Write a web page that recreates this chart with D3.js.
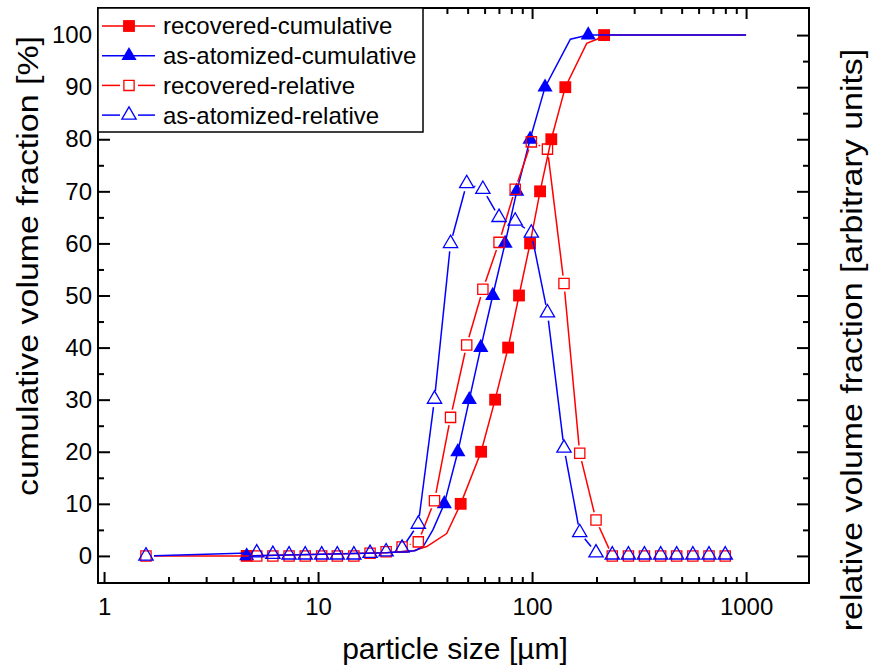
<!DOCTYPE html>
<html>
<head>
<meta charset="utf-8">
<script src="https://cdn.jsdelivr.net/npm/d3@7"></script>
<style>
  body { margin: 0; background: #fff; }
  text { font-family: "Liberation Sans", Arial, sans-serif; fill: #000; }
</style>
</head>
<body>
<svg id="chart" width="869" height="668"></svg>
<script>
// size classes of the relative distributions [µm]
var relSize = [1.57, 5.17, 6.15, 7.32, 8.71, 10.4, 12.3, 14.7, 17.5, 20.8, 24.7, 29.4, 35.0, 41.6, 49.5,
  58.9, 70.1, 83.4, 99.2, 118, 141, 167, 199, 237, 282, 335, 399, 474, 564, 671, 799];
var recoveredRel = [0, 0, 0, 0, 0, 0, 0, 0, 0.5, 0.8, 1.7, 2.7, 10.6, 26.6, 40.5,
  51.2, 60.2, 70.4, 79.5, 78.1, 52.3, 19.7, 6.9, 0, 0, 0, 0, 0, 0, 0, 0];
var atomizedRel = [0, 0.6, 0.3, 0.2, 0.2, 0.2, 0.2, 0.2, 0.5, 0.8, 1.5, 6.1, 30.1, 60.0, 71.5,
  70.4, 65.0, 64.3, 62.0, 46.7, 20.7, 4.5, 0.6, 0.2, 0.2, 0.2, 0.2, 0.2, 0.2, 0.2, 0.2];

// cumulative: marked percentiles
var cumPct = [0, 10, 20, 30, 40, 50, 60, 70, 80, 90, 100];
var recoveredCumSize = [4.64, 46.4, 57.8, 67.2, 77.3, 86.9, 97.9, 109, 123, 143, 217];
var atomizedCumSize = [4.64, 38.9, 45.0, 50.9, 57.6, 65.5, 74.8, 84.8, 97.9, 115, 183];

// cumulative: curves drawn under the markers
var recoveredCurveSize = [4.64, 10.4, 20.8, 27.9, 32.2, 39.9, 46.4, 57.8, 67.2, 77.3, 86.9, 97.9, 109, 123, 143, 180, 201, 217, 1000];
var recoveredCurvePct = [0, 0.3, 0.6, 1.0, 1.8, 4.3, 10, 20, 30, 40, 50, 60, 70, 80, 90, 98.4, 99.2, 100, 100];
var atomizedCurveSize = [4.64, 10.4, 20.8, 28.4, 31.0, 34.4, 38.9, 45.0, 50.9, 57.6, 65.5, 74.8, 84.8, 97.9, 115, 151, 183, 1000];
var atomizedCurvePct = [0, 0.3, 0.6, 1.0, 1.8, 5.0, 10, 20, 30, 40, 50, 60, 70, 80, 90, 99.2, 100, 100];

var xMajor = [1, 10, 100, 1000];
var yMajor = [0, 10, 20, 30, 40, 50, 60, 70, 80, 90, 100];
var yMinor = [5, 15, 25, 35, 45, 55, 65, 75, 85, 95];
var xDomain = [0.937, 1968];
var yDomain = [-5.2, 105.2];

var legendNames = ["recovered-cumulative", "as-atomized-cumulative", "recovered-relative", "as-atomized-relative"];

var RED = "#ff0000", BLUE = "#0000ff";
var frame = {left: 98, top: 8, right: 809, bottom: 583};

var svg = d3.select("#chart");

var x = d3.scaleLog().domain(xDomain).range([frame.left, frame.right]);
var y = d3.scaleLinear().domain(yDomain).range([frame.bottom, frame.top]);

var xMinor = x.ticks().filter(function(t) { return xMajor.indexOf(t) < 0; });

// axes, ticks pointing inwards on all four sides
function styleAxis(g) {
  g.select(".domain").remove();
  g.selectAll(".tick line").attr("stroke", "#000").attr("stroke-width", 2);
  g.selectAll("text").style("font-size", "24px").attr("fill", "#000");
}

svg.append("g").attr("transform", "translate(0," + frame.bottom + ")")
  .call(d3.axisBottom(x).tickValues(xMajor).tickFormat(d3.format("d")).tickSize(-11).tickPadding(15))
  .call(styleAxis);
svg.append("g").attr("transform", "translate(0," + frame.bottom + ")")
  .call(d3.axisBottom(x).tickValues(xMinor).tickFormat("").tickSize(-6))
  .call(styleAxis);
svg.append("g").attr("transform", "translate(0," + frame.top + ")")
  .call(d3.axisTop(x).tickValues(xMajor).tickFormat("").tickSize(-11))
  .call(styleAxis);
svg.append("g").attr("transform", "translate(0," + frame.top + ")")
  .call(d3.axisTop(x).tickValues(xMinor).tickFormat("").tickSize(-6))
  .call(styleAxis);

svg.append("g").attr("transform", "translate(" + frame.left + ",0)")
  .call(d3.axisLeft(y).tickValues(yMajor).tickSize(-12).tickPadding(6))
  .call(styleAxis);
svg.append("g").attr("transform", "translate(" + frame.left + ",0)")
  .call(d3.axisLeft(y).tickValues(yMinor).tickFormat("").tickSize(-6))
  .call(styleAxis);
svg.append("g").attr("transform", "translate(" + frame.right + ",0)")
  .call(d3.axisRight(y).tickValues(yMajor).tickFormat("").tickSize(-12))
  .call(styleAxis);
svg.append("g").attr("transform", "translate(" + frame.right + ",0)")
  .call(d3.axisRight(y).tickValues(yMinor).tickFormat("").tickSize(-6))
  .call(styleAxis);

svg.append("rect")
  .attr("x", frame.left).attr("y", frame.top)
  .attr("width", frame.right - frame.left).attr("height", frame.bottom - frame.top)
  .attr("fill", "none").attr("stroke", "#000").attr("stroke-width", 2);

// axis titles (the vertical ones are stretched along their length, as in the source image)
svg.append("text")
  .attr("x", 455).attr("y", 659)
  .attr("text-anchor", "middle").style("font-size", "30px")
  .text("particle size [µm]");
svg.append("text")
  .attr("transform", "translate(38,266) rotate(-90) scale(1.17,1)")
  .attr("text-anchor", "middle").style("font-size", "29px")
  .text("cumulative volume fraction [%]");
svg.append("text")
  .attr("transform", "translate(862,340) rotate(-90) scale(1.17,1)")
  .attr("text-anchor", "middle").style("font-size", "29px")
  .text("relative volume fraction [arbitrary units]");

var squareFilled = d3.symbol().type(d3.symbolSquare).size(140);
var squareOpen = d3.symbol().type(d3.symbolSquare).size(105);
var triFilled = d3.symbol().type(d3.symbolTriangle).size(100);
var triOpen = d3.symbol().type(d3.symbolTriangle).size(88);

var plot = svg.append("g");

function zip(xs, ys) {
  return xs.map(function(v, i) { return [v, ys[i]]; });
}

function drawCurve(pts, color) {
  plot.append("path")
    .datum(pts)
    .attr("fill", "none").attr("stroke", color).attr("stroke-width", 1.5)
    .attr("d", d3.line().x(function(d) { return x(d[0]); }).y(function(d) { return y(d[1]); }));
}

// line broken around each symbol, as in the original plot
function drawGapLine(pts, color, gap) {
  var px = pts.map(function(d) { return [x(d[0]), y(d[1])]; });
  var segs = [];
  for (var i = 0; i < px.length - 1; i++) {
    var dx = px[i + 1][0] - px[i][0], dy = px[i + 1][1] - px[i][1];
    var len = Math.sqrt(dx * dx + dy * dy);
    if (len <= 2 * gap + 1) continue;
    var ux = dx / len, uy = dy / len;
    segs.push([px[i][0] + ux * gap, px[i][1] + uy * gap, px[i + 1][0] - ux * gap, px[i + 1][1] - uy * gap]);
  }
  plot.append("g").selectAll("line").data(segs).join("line")
    .attr("x1", function(d) { return d[0]; }).attr("y1", function(d) { return d[1]; })
    .attr("x2", function(d) { return d[2]; }).attr("y2", function(d) { return d[3]; })
    .attr("stroke", color).attr("stroke-width", 1.5);
}

function drawMarks(pts, sym, color, filled) {
  plot.append("g").selectAll("path").data(pts).join("path")
    .attr("transform", function(d) { return "translate(" + x(d[0]) + "," + y(d[1]) + ")"; })
    .attr("d", sym)
    .attr("fill", filled ? color : "none")
    .attr("stroke", filled ? "none" : color)
    .attr("stroke-width", 1.3);
}

var recCurve = zip(recoveredCurveSize, recoveredCurvePct);
var atoCurve = zip(atomizedCurveSize, atomizedCurvePct);
var recCum = zip(recoveredCumSize, cumPct);
var atoCum = zip(atomizedCumSize, cumPct);
var recRel = zip(relSize, recoveredRel);
var atoRel = zip(relSize, atomizedRel);

drawCurve(recCurve, RED);
drawMarks(recCum, squareFilled, RED, true);
drawCurve(atoCurve, BLUE);
drawMarks(atoCum, triFilled, BLUE, true);
drawGapLine(recRel, RED, 8);
drawMarks(recRel, squareOpen, RED, false);
drawGapLine(atoRel, BLUE, 8);
drawMarks(atoRel, triOpen, BLUE, false);

// legend
var legend = svg.append("g");
legend.append("rect")
  .attr("x", 98).attr("y", 8).attr("width", 325).attr("height", 124)
  .attr("fill", "#fff").attr("stroke", "#000").attr("stroke-width", 1.5);

var legendItems = [
  {sym: squareFilled, color: RED, filled: true},
  {sym: triFilled, color: BLUE, filled: true},
  {sym: squareOpen, color: RED, filled: false},
  {sym: triOpen, color: BLUE, filled: false}
];
legendItems.forEach(function(item, i) {
  var cy = 26 + i * 29.7;
  if (item.filled) {
    legend.append("line").attr("x1", 102).attr("x2", 155).attr("y1", cy).attr("y2", cy)
      .attr("stroke", item.color).attr("stroke-width", 1.5);
  } else {
    legend.append("line").attr("x1", 102).attr("x2", 120).attr("y1", cy).attr("y2", cy)
      .attr("stroke", item.color).attr("stroke-width", 1.5);
    legend.append("line").attr("x1", 138).attr("x2", 155).attr("y1", cy).attr("y2", cy)
      .attr("stroke", item.color).attr("stroke-width", 1.5);
  }
  legend.append("path")
    .attr("transform", "translate(129," + cy + ")")
    .attr("d", item.sym)
    .attr("fill", item.filled ? item.color : "none")
    .attr("stroke", item.filled ? "none" : item.color)
    .attr("stroke-width", 1.3);
  legend.append("text")
    .attr("x", 163).attr("y", cy).attr("dy", "0.35em")
    .style("font-size", "24px")
    .text(legendNames[i]);
});
</script>
</body>
</html>
